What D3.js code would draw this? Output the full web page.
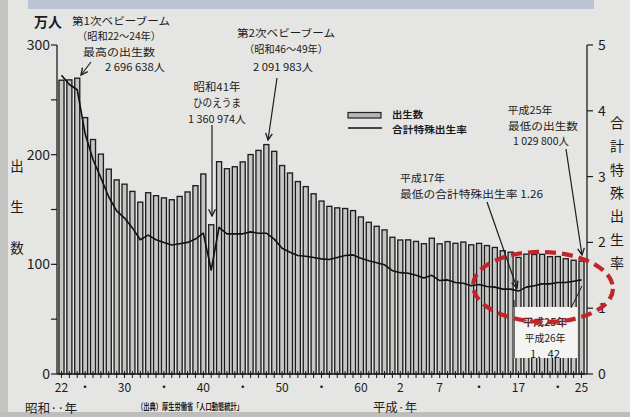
<!DOCTYPE html>
<html><head><meta charset="utf-8">
<script src="https://cdn.jsdelivr.net/npm/d3@7"></script>
<style>
html,body{margin:0;padding:0;background:#e4e4e2;}
svg{display:block;font-family:"Noto Sans CJK JP","Noto Sans",sans-serif;}
</style></head><body>
<svg id="c" width="630" height="417"></svg>
<script>
// ---- data ----
const years = d3.range(1947, 2014);
// births, 10,000 persons (万人)
const births = [267.9,268.2,269.7,233.8,213.8,200.5,186.8,177.0,173.1,166.5,
  156.7,165.3,162.6,160.6,158.9,161.9,166.0,171.7,182.4,136.1,
  193.6,187.2,189.0,193.4,200.1,203.9,209.2,203.0,190.1,183.3,
  175.5,170.9,164.3,157.7,152.9,151.5,150.9,149.0,143.2,138.3,
  134.7,131.4,124.7,122.2,122.3,120.9,118.8,123.8,118.7,120.7,
  119.2,120.3,117.8,119.1,117.1,115.4,112.4,111.1,106.3,109.3,
  109.0,109.1,107.0,107.1,105.1,103.7,103.0];
// total fertility rate
const tfr = [4.54,4.40,4.32,3.65,3.26,2.98,2.69,2.48,2.37,2.22,
  2.04,2.11,2.04,2.00,1.96,1.98,2.00,2.05,2.14,1.58,
  2.23,2.13,2.13,2.13,2.16,2.14,2.14,2.05,1.91,1.85,
  1.80,1.79,1.77,1.75,1.74,1.77,1.80,1.81,1.76,1.72,
  1.69,1.66,1.57,1.54,1.53,1.50,1.46,1.50,1.42,1.43,
  1.39,1.38,1.34,1.36,1.33,1.32,1.29,1.29,1.26,1.32,
  1.34,1.37,1.37,1.39,1.39,1.41,1.43];
const xTickYears  = [1947,1950,1955,1960,1965,1970,1975,1980,1985,1990,1995,2000,2005,2010,2013];
const xTickLabels = ["22","・","30","・","40","・","50","・","60","2","7","・","17","・","25"];
const leftTicks = [0,100,200,300];
const leftMinor = [50,150,250];
const rightTicks = [0,1,2,3,4,5];

const svg = d3.select("#c");
const ink = "#1c1c1c";

// ---- background decoration ----
svg.append("rect").attr("x",0).attr("y",0).attr("width",630).attr("height",417).attr("fill","#e5e5e3");
svg.append("rect").attr("x",28).attr("y",0).attr("width",566).attr("height",9).attr("fill","#b9c4d4");
svg.append("rect").attr("x",0).attr("y",0).attr("width",8).attr("height",417).attr("fill","#c4c4c2");
svg.append("rect").attr("x",0).attr("y",412).attr("width",630).attr("height",5).attr("fill","#bdbdbb");

// ---- scales ----
const x = d3.scaleBand().domain(years).range([57,586]).paddingInner(0.36).paddingOuter(0.25);
const yL = d3.scaleLinear().domain([0,300]).range([374,45]);
const yR = d3.scaleLinear().domain([0,5]).range([374,45]);
const cx = d => x(d) + x.bandwidth()/2;

// ---- bars ----
svg.append("g").selectAll("rect").data(years).join("rect")
  .attr("x", d => x(d)).attr("width", x.bandwidth())
  .attr("y", (d,i) => yL(births[i])).attr("height", (d,i) => yL(0) - yL(births[i]))
  .attr("fill","#c6c6c4").attr("stroke","#1e1e1e").attr("stroke-width",1.35);

// ---- axes ----
const gL = svg.append("g").attr("transform","translate(57,0)");
gL.append("line").attr("y1",yL(0)).attr("y2",yL(300)).attr("stroke",ink).attr("stroke-width",1.3);
gL.selectAll(".mj").data(leftTicks).join("line")
  .attr("x1",-6).attr("x2",0).attr("y1",d=>yL(d)).attr("y2",d=>yL(d)).attr("stroke",ink).attr("stroke-width",1.2);
gL.selectAll(".mn").data(leftMinor).join("line").attr("class","mn")
  .attr("x1",-6).attr("x2",0).attr("y1",d=>yL(d)).attr("y2",d=>yL(d)).attr("stroke",ink).attr("stroke-width",1.2);
gL.selectAll("text").data(leftTicks).join("text")
  .attr("x",-7).attr("y",d=>yL(d)+5).attr("text-anchor","end")
  .attr("font-size",14).attr("fill",ink).text(d=>d);

const gR = svg.append("g").attr("transform","translate(587,0)");
gR.append("line").attr("y1",yR(0)).attr("y2",yR(5)).attr("stroke",ink).attr("stroke-width",1.3);
gR.selectAll("line.t").data(rightTicks).join("line").attr("class","t")
  .attr("x1",0).attr("x2",6).attr("y1",d=>yR(d)).attr("y2",d=>yR(d)).attr("stroke",ink).attr("stroke-width",1.2);
gR.selectAll("text").data(rightTicks).join("text")
  .attr("x",11).attr("y",d=>yR(d)+5).attr("text-anchor","start")
  .attr("font-size",14).attr("fill",ink).text(d=>d);

// x axis baseline + year ticks
svg.append("line").attr("x1",57).attr("x2",587).attr("y1",374).attr("y2",374).attr("stroke",ink).attr("stroke-width",1.4);
svg.append("g").selectAll("line").data(years).join("line")
  .attr("x1",d=>cx(d)).attr("x2",d=>cx(d)).attr("y1",371).attr("y2",378)
  .attr("stroke",ink).attr("stroke-width",1);
svg.append("g").selectAll("text").data(xTickYears).join("text")
  .attr("x",d=>cx(d)).attr("y",392).attr("text-anchor","middle")
  .attr("font-size",12).attr("fill",ink).text((d,i)=>xTickLabels[i]);

// ---- TFR line ----
const line = d3.line().x((d,i)=>cx(years[i])).y(d=>yR(d));
svg.append("path").datum(tfr).attr("d",line).attr("fill","none")
  .attr("stroke","#111").attr("stroke-width",1.6).attr("stroke-linejoin","round");

// ---- white box (2014 note) ----
svg.append("rect").attr("x",513).attr("y",307).attr("width",64).attr("height",51).attr("fill","#f4f4f2");
svg.append("line").attr("x1",514).attr("x2",514).attr("y1",300).attr("y2",358).attr("stroke",ink).attr("stroke-width",1.2);

// ---- arrows ----
const defs = svg.append("defs");
defs.append("marker").attr("id","ah").attr("viewBox","0 0 10 10").attr("refX",9).attr("refY",5)
  .attr("markerWidth",7).attr("markerHeight",7).attr("orient","auto")
  .append("path").attr("d","M1,1 L9,5 L1,9").attr("fill","none").attr("stroke",ink).attr("stroke-width",1.6);
function arrow(x1,y1,x2,y2){
  svg.append("line").attr("x1",x1).attr("y1",y1).attr("x2",x2).attr("y2",y2)
    .attr("stroke",ink).attr("stroke-width",1.2).attr("marker-end","url(#ah)");
}
arrow(91,62,81,75);
arrow(277,78,268,140);
arrow(212,125,212,216);
arrow(566,149,582,255);
arrow(487,202,517,288);
svg.append("line").attr("x1",571).attr("y1",308).attr("x2",582).attr("y2",286).attr("stroke",ink).attr("stroke-width",1);

// ---- texts ----
function txt(s,xx,yy,opt={}){
  const t = svg.append("text").attr("x",xx).attr("y",yy).attr("fill",opt.fill||ink)
    .attr("font-size",opt.size||11.5).attr("text-anchor",opt.anchor||"middle")
    .attr("font-weight",opt.weight||"normal").text(s);
  if(opt.len) t.attr("textLength",opt.len).attr("lengthAdjust","spacingAndGlyphs");
  return t;
}
txt("万人",48,27,{size:14,weight:"bold"});
txt("第1次ベビーブーム",121,25,{size:10.5,len:98});
txt("（昭和22～24年）",119,40,{size:10.5,len:84});
txt("最高の出生数",119,55.5,{size:10.5,len:72});
txt("2 696 638人",135,71,{size:10.5,len:60});

txt("第2次ベビーブーム",286,37,{size:10.5,len:98});
txt("（昭和46～49年）",286,52.5,{size:10.5,len:84});
txt("2 091 983人",283,71,{size:10.5,len:60});

txt("昭和41年",217,91,{size:11,len:47});
txt("ひのえうま",217,107,{size:11,len:48});
txt("1 360 974人",217,123,{size:10.5,len:58});

txt("平成25年",530,114,{size:10.5,len:45});
txt("最低の出生数",543,129.5,{size:10.5,len:70});
txt("1 029 800人",541,145,{size:10.5,len:56});

txt("平成17年",400,182,{size:10.5,anchor:"start",len:45});
txt("最低の合計特殊出生率 1.26",400,197.5,{size:10.5,anchor:"start",len:143});

txt("平成25年",545,326,{size:10.5,weight:"bold",fill:"#5a2a2a",len:44});
txt("平成26年",545,342,{size:10});
txt("1．42",545,358,{size:10,len:30});

// legend
svg.append("rect").attr("x",348).attr("y",112.5).attr("width",33).attr("height",5.5)
  .attr("fill","#b5b5b3").attr("stroke","#222").attr("stroke-width",1.2);
svg.append("line").attr("x1",348).attr("x2",382).attr("y1",128).attr("y2",128).attr("stroke","#111").attr("stroke-width",1.6);
txt("出生数",392,118,{size:9.5,anchor:"start",weight:"bold",len:31});
txt("合計特殊出生率",392,132.5,{size:9.5,anchor:"start",weight:"bold",len:75});

// axis titles
["出","生","数"].forEach((c,i)=>txt(c,17,171+i*41,{size:13.5}));
["合","計","特","殊","出","生","率"].forEach((c,i)=>txt(c,617,128+i*23.3,{size:14}));

// bottom texts
txt("昭和··年",51,413,{size:12.5,len:52});
txt("（出典）厚生労働省「人口動態統計」",190,410,{size:9,len:106,weight:"bold"});
txt("平成·年",395,412,{size:12,len:44});

// ---- red dashed ellipse ----
svg.append("ellipse").attr("cx",543).attr("cy",287).attr("rx",70).attr("ry",35)
  .attr("transform","rotate(1.5,543,287)")
  .attr("fill","none").attr("stroke","#c2242c").attr("stroke-width",4.2).attr("stroke-dasharray","11 6");
</script>
</body></html>
